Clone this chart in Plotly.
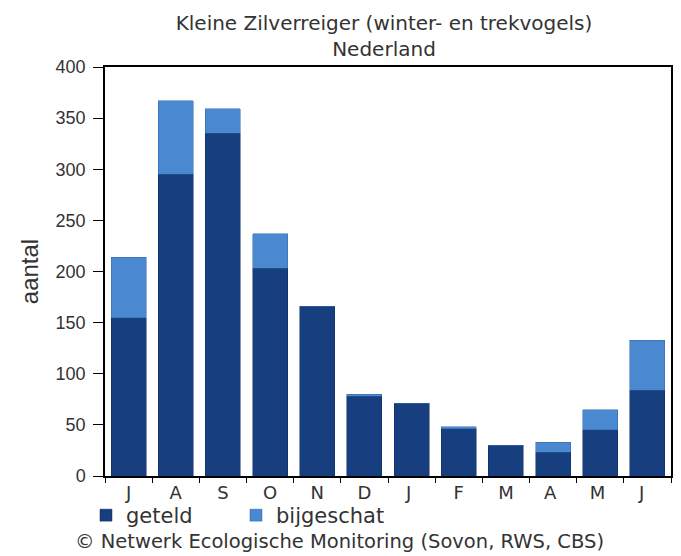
import plotly.graph_objects as go

months = ["J", "A", "S", "O", "N", "D", "J ", "F", "M", "A ", "M ", "J  "]
geteld = [155, 295, 335, 203, 166, 78, 71, 46, 30, 23, 45, 84]
bijgeschat = [59, 72, 24, 34, 0, 2, 0, 2, 0, 10, 20, 49]
y_ticks = [0, 50, 100, 150, 200, 250, 300, 350, 400]

DARK = "#173F80"
LIGHT = "#4A89D0"
TXT = "#333333"

W, H = 673, 548  # page body adds 8px offset

fig = go.Figure()
fig.add_trace(go.Bar(x=months, y=geteld, name="geteld",
                     marker=dict(color=DARK, line=dict(color="#0F2C5E", width=0.5))))
fig.add_trace(go.Bar(x=months, y=bijgeschat, name="bijgeschat",
                     marker=dict(color=LIGHT, line=dict(color="#2F66A8", width=0.5))))

fig.update_layout(
    barmode="stack",
    bargap=0.255,
    width=W, height=H,
    margin=dict(l=97, r=10, t=59, b=80, autoexpand=False),
    paper_bgcolor="white", plot_bgcolor="white",
    title=dict(text="Kleine Zilverreiger (winter- en trekvogels)<br>Nederland",
               x=0.5587, xanchor="center",
               y=1 - 22 / H, yanchor="top",
               font=dict(family="DejaVu Sans", size=20, color=TXT)),
    showlegend=True,
    legend=dict(orientation="h", x=-0.0336, xanchor="left", y=-0.0966, yanchor="middle",
                font=dict(family="DejaVu Sans", size=21, color=TXT),
                entrywidth=105, entrywidthmode="pixels",
                itemwidth=30, bgcolor="rgba(0,0,0,0)", traceorder="normal"),
    font=dict(family="Liberation Sans", color=TXT),
)
fig.update_xaxes(
    type="category",
    showline=True, linecolor="black", linewidth=1.5, mirror=True,
    ticks="outside", ticklen=5, tickcolor="black", tickson="boundaries",
    tickfont=dict(family="DejaVu Sans", size=18, color=TXT),
    showgrid=False,
)
fig.update_yaxes(
    range=[0, 400], tickvals=y_ticks,
    showline=True, linecolor="black", linewidth=1.5, mirror=True,
    ticks="outside", ticklen=10, tickcolor="black", ticklabelstandoff=4,
    tickfont=dict(family="Liberation Sans", size=18, color=TXT),
    showgrid=False, zeroline=False,
    title=dict(text="aantal", font=dict(family="Liberation Sans", size=24, color=TXT), standoff=10),
)
fig.add_annotation(text="© Netwerk Ecologische Monitoring (Sovon, RWS, CBS)",
                   xref="paper", yref="paper", x=0.414, y=-0.159, xanchor="center", yanchor="middle",
                   showarrow=False, font=dict(family="DejaVu Sans", size=19.5, color=TXT))
fig.write_html("out.html")
